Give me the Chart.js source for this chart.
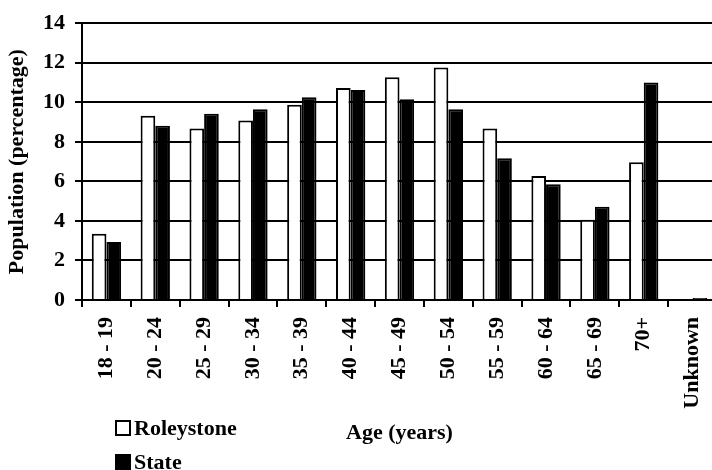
<!DOCTYPE html>
<html>
<head>
<meta charset="utf-8">
<title>Population by age</title>
<script src="https://cdn.jsdelivr.net/npm/chart.js@4/dist/chart.umd.min.js"></script>
<style>
  html, body { margin: 0; padding: 0; background: #fff; overflow: hidden; }
  #wrap { position: relative; width: 720px; height: 470px; }
  #legend {
    position: absolute; left: 115px; top: 411px;
    font: bold 22px "Liberation Serif", "Times New Roman", serif; color: #000;
  }
  .item { display: flex; align-items: center; height: 34px; }
  .box { width: 12px; height: 12px; border: 2px solid #000; margin-right: 3px; }
</style>
</head>
<body>
<div id="wrap">
  <canvas id="chart" width="720" height="470"></canvas>
  <div id="legend"></div>
</div>
<script>
'use strict';

var ageGroups = ['18 - 19', '20 - 24', '25 - 29', '30 - 34', '35 - 39', '40 - 44', '45 - 49',
                 '50 - 54', '55 - 59', '60 - 64', '65 - 69', '70+', 'Unknown'];
var roleystone = [3.35, 9.32, 8.68, 9.08, 9.87, 10.72, 11.26, 11.76, 8.68, 6.27, 4.06, 6.97, 0.05];
var state = [2.93, 8.81, 9.42, 9.65, 10.25, 10.62, 10.15, 9.65, 7.17, 5.85, 4.72, 11.0, 0.1];
var yTicks = [0, 2, 4, 6, 8, 10, 12, 14];

var FONT = '"Liberation Serif", "Times New Roman", serif';
var font22 = { family: FONT, size: 22, weight: 'bold' };

Chart.defaults.color = '#000';

var chart = new Chart(document.getElementById('chart'), {
  type: 'bar',
  data: {
    labels: ageGroups,
    datasets: [
      { label: 'Roleystone', data: roleystone, backgroundColor: '#fff', borderColor: '#000', borderWidth: 2 },
      { label: 'State', data: state, backgroundColor: '#000', borderColor: '#000', borderWidth: 2 }
    ]
  },
  options: {
    responsive: false,
    animation: false,
    layout: { padding: { top: 21, right: 3, bottom: 23, left: 4 } },
    datasets: { bar: { categoryPercentage: 0.6, barPercentage: 1.0 } },
    plugins: { legend: { display: false }, tooltip: { enabled: false } },
    scales: {
      x: {
        afterFit: function (axis) {
          // fixed axis box; the rotated labels need no side padding
          axis.height = 147;
          axis.paddingLeft = 0;
          axis.paddingRight = 0;
        },
        grid: { offset: true, drawOnChartArea: false, drawTicks: true, tickLength: 7, color: '#000', lineWidth: 2 },
        border: { display: true, color: '#000', width: 2 },
        ticks: { font: font22, minRotation: 90, maxRotation: 90, autoSkip: false, padding: 10 },
        title: { display: true, text: 'Age (years)', font: font22, padding: 0 }
      },
      y: {
        min: 0, max: 14,
        afterBuildTicks: function (axis) {
          axis.ticks = yTicks.map(function (v) { return { value: v }; });
        },
        afterFit: function (axis) { axis.width = 78; },
        grid: { color: '#000', lineWidth: 2, tickLength: 7 },
        border: { display: true, color: '#000', width: 2 },
        ticks: { font: font22, padding: 10 },
        title: { display: true, text: 'Population (percentage)', font: font22, padding: 0 }
      }
    }
  }
});

// legend built from the datasets, stacked under the axis
var legendEl = document.getElementById('legend');
chart.data.datasets.forEach(function (ds) {
  var row = document.createElement('div');
  row.className = 'item';
  var box = document.createElement('span');
  box.className = 'box';
  box.style.background = ds.backgroundColor;
  var txt = document.createElement('span');
  txt.textContent = ds.label;
  row.appendChild(box);
  row.appendChild(txt);
  legendEl.appendChild(row);
});
</script>
</body>
</html>
